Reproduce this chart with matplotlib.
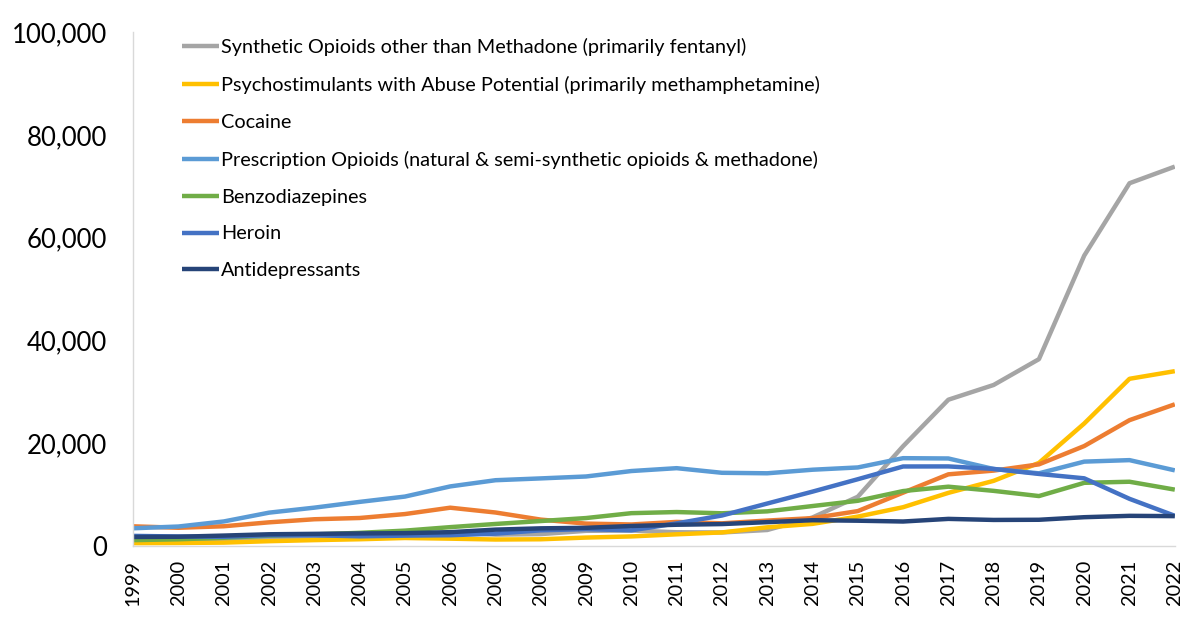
import matplotlib
matplotlib.use("Agg")
import matplotlib.pyplot as plt
from matplotlib.ticker import FuncFormatter

years = list(range(1999, 2023))

synthetic = [730, 782, 957, 1295, 1400, 1664, 1742, 2707, 2213, 2306, 2946, 3007,
             2666, 2628, 3105, 5544, 9580, 19413, 28466, 31335, 36359, 56516, 70601, 73838]
psychostim = [547, 578, 650, 928, 1136, 1306, 1550, 1421, 1254, 1302, 1632, 1854,
              2266, 2635, 3627, 4298, 5716, 7542, 10333, 12676, 16167, 23837, 32537, 34022]
cocaine = [3822, 3544, 3833, 4599, 5199, 5443, 6208, 7448, 6512, 5129, 4350, 4183,
           4681, 4404, 4944, 5415, 6784, 10375, 13942, 14666, 15883, 19447, 24486, 27569]
rx_opioids = [3442, 3785, 4770, 6483, 7456, 8577, 9612, 11589, 12796, 13149, 13523, 14583,
              15140, 14240, 14145, 14838, 15281, 17087, 17029, 14975, 14139, 16416, 16706, 14716]
benzos = [1135, 1298, 1594, 2004, 2248, 2556, 2983, 3663, 4281, 4848, 5432, 6383,
          6602, 6359, 6735, 7769, 8791, 10684, 11537, 10724, 9711, 12290, 12499, 10964]
heroin = [1960, 1842, 1779, 2089, 2080, 1878, 2009, 2088, 2399, 3041, 3278, 3036,
          4397, 5925, 8257, 10574, 12989, 15469, 15482, 14996, 14019, 13165, 9173, 5871]
antidep = [1749, 1794, 2021, 2275, 2357, 2435, 2493, 2684, 3180, 3430, 3530, 3889,
           4128, 4260, 4634, 5014, 4915, 4758, 5269, 5064, 5097, 5597, 5863, 5805]

labels = [
    "Synthetic Opioids other than Methadone (primarily fentanyl)",
    "Psychostimulants with Abuse Potential (primarily methamphetamine)",
    "Cocaine",
    "Prescription Opioids (natural & semi-synthetic opioids & methadone)",
    "Benzodiazepines",
    "Heroin",
    "Antidepressants",
]
series = [synthetic, psychostim, cocaine, rx_opioids, benzos, heroin, antidep]
colors = ["#A5A5A5", "#FFC000", "#ED7D31", "#5B9BD5", "#70AD47", "#4472C4", "#264478"]

plt.rcParams["font.family"] = ["Lato", "DejaVu Sans"]

fig = plt.figure(figsize=(12, 6.19), dpi=100)
ax = fig.add_axes([0.111, 0.118, 0.868, 0.830])

for vals, lab, col in zip(series, labels, colors):
    ax.plot(years, vals, color=col, lw=3.2, label=lab, solid_capstyle="butt")

ax.set_xlim(1999, 2022)
ax.set_ylim(0, 100000)
ax.set_xticks(years)
ax.set_xticklabels([str(y) for y in years], rotation=90, fontsize=14.3)
ax.set_yticks(range(0, 100001, 20000))
ax.yaxis.set_major_formatter(FuncFormatter(lambda v, p: f"{int(v):,}"))
ax.tick_params(axis="y", labelsize=18.5, length=0, pad=19)
ax.tick_params(axis="x", length=0, pad=10)

for s in ["top", "right"]:
    ax.spines[s].set_visible(False)
ax.spines["left"].set_color("#d9d9d9")
ax.spines["bottom"].set_color("#d9d9d9")
ax.spines["left"].set_linewidth(1)
ax.spines["bottom"].set_linewidth(1)

fig.legend(loc="upper left", bbox_to_anchor=(182 / 1200, 1 - 38 / 619),
           frameon=False, fontsize=14.3, handlelength=1.85, handletextpad=0.1,
           labelspacing=1.0, borderpad=0, borderaxespad=0)

fig.savefig("out.png", dpi=100)
